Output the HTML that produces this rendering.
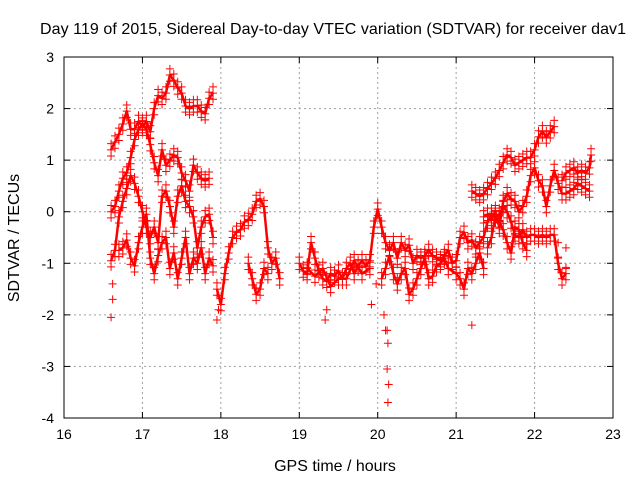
<!DOCTYPE html>
<html><head><meta charset="utf-8"><style>
body{margin:0;background:#fff}
svg text{font-family:"Liberation Sans",sans-serif;font-size:14px;fill:#000}
svg text.big{font-size:16px}
</style></head><body>
<svg id="c" width="640" height="480"></svg>
<script>
const xTicks=[16,17,18,19,20,21,22,23];
const yTicks=[-4,-3,-2,-1,0,1,2,3];
const trackA=[[16.60,1.2],[16.65,1.35],[16.70,1.5],[16.75,1.7],[16.80,1.95],[16.85,1.6],[16.90,1.6],[16.95,1.75],[17.00,1.65],[17.05,1.75],[17.10,1.55],[17.15,2.0],[17.20,2.25],[17.25,2.2],[17.30,2.3],[17.35,2.65],[17.40,2.55],[17.45,2.4],[17.50,2.3],[17.55,2.05],[17.60,2.0],[17.65,2.05],[17.70,2.05],[17.75,1.95],[17.80,1.9],[17.85,2.2],[17.90,2.3]];
const trackB=[[16.60,0.0],[16.65,0.1],[16.70,0.4],[16.75,0.65],[16.80,0.75],[16.85,1.05],[16.90,1.4],[16.95,1.6],[17.00,1.7],[17.05,1.6],[17.10,1.3],[17.15,0.95],[17.20,0.7],[17.25,1.2],[17.30,0.9],[17.35,1.0],[17.40,1.1],[17.45,1.05],[17.50,0.75],[17.55,0.6],[17.60,0.4],[17.65,0.9],[17.70,0.75],[17.75,0.65],[17.80,0.6],[17.85,0.65]];
const trackC=[[16.60,-0.95],[16.65,-0.75],[16.70,-0.1],[16.75,0.2],[16.80,0.45],[16.85,0.7],[16.90,0.55],[16.95,0.3],[17.00,0.0],[17.05,-0.3],[17.10,-0.5],[17.15,-0.3],[17.20,-0.6],[17.25,0.3],[17.30,0.4],[17.35,0.1],[17.40,-0.3],[17.45,0.3],[17.50,0.5],[17.55,0.2],[17.60,0.1],[17.65,-0.1],[17.70,-0.7],[17.75,-0.3],[17.80,-0.1],[17.85,-0.05],[17.90,-0.5]];
const trackD=[[16.70,-0.75],[16.75,-0.7],[16.80,-0.55],[16.85,-0.9],[16.90,-1.05],[16.95,-0.6],[17.00,-0.3],[17.05,-0.05],[17.10,-0.9],[17.15,-1.2],[17.20,-0.85],[17.25,-0.6],[17.30,-0.5],[17.35,-1.1],[17.40,-0.8],[17.45,-1.3],[17.50,-0.9],[17.55,-0.5],[17.60,-1.2],[17.65,-0.9],[17.70,-1.0],[17.75,-0.7],[17.80,-1.2],[17.85,-0.9],[17.90,-1.05]];
const trackE=[[17.95,-1.5],[18.00,-1.8],[18.05,-1.2],[18.10,-0.8],[18.15,-0.5],[18.20,-0.4],[18.25,-0.35],[18.30,-0.2],[18.35,-0.15],[18.40,-0.05],[18.45,0.2],[18.50,0.25],[18.55,0.1],[18.60,-0.7],[18.65,-1.0],[18.70,-0.9],[18.75,-1.3]];
const trackE2=[[18.35,-1.0],[18.40,-1.3],[18.45,-1.6],[18.50,-1.5],[18.55,-1.1],[18.60,-1.2]];
const trackF=[[19.00,-1.0],[19.05,-1.15],[19.10,-1.2],[19.15,-0.6],[19.20,-0.9],[19.25,-1.15],[19.30,-1.3],[19.35,-1.35],[19.40,-1.2],[19.45,-1.25],[19.50,-1.15],[19.55,-1.3],[19.60,-1.1],[19.65,-1.0],[19.70,-1.2],[19.75,-1.05],[19.80,-0.95],[19.85,-1.05],[19.90,-0.95],[19.95,-0.3],[20.00,0.05],[20.05,-0.3],[20.10,-0.6],[20.15,-0.75],[20.20,-0.6],[20.25,-0.9],[20.30,-0.6],[20.35,-0.75],[20.40,-0.65],[20.45,-1.0],[20.50,-0.85],[20.55,-0.9],[20.60,-0.85],[20.65,-0.75],[20.70,-0.85],[20.75,-0.9],[20.80,-0.95],[20.85,-0.85],[20.90,-0.75],[20.95,-1.0],[21.00,-0.95],[21.05,-0.5],[21.10,-0.4],[21.15,-0.6],[21.20,-0.55],[21.25,-0.7],[21.30,-0.6],[21.35,-0.5],[21.40,-0.2],[21.45,-0.05],[21.50,-0.1],[21.55,-0.05],[21.60,0.1],[21.65,0.0],[21.70,-0.2],[21.75,-0.45],[21.80,-0.5],[21.85,-0.35],[21.90,-0.5],[21.95,-0.45],[22.00,-0.45],[22.05,-0.5],[22.10,-0.45],[22.15,-0.5],[22.20,-0.45],[22.25,-0.45],[22.30,-1.0],[22.35,-1.3],[22.40,-1.2]];
const trackG=[[19.10,-1.1],[19.20,-1.25],[19.30,-1.1],[19.40,-1.45],[19.50,-1.3],[19.60,-1.3],[19.70,-0.95],[19.80,-1.2],[19.90,-1.1]];
const trackH=[[20.05,-1.3],[20.10,-1.1],[20.15,-0.85],[20.20,-1.2],[20.25,-1.4],[20.30,-1.2],[20.35,-1.1],[20.40,-1.6],[20.45,-1.5],[20.50,-1.3],[20.55,-1.1],[20.60,-0.9],[20.65,-1.3],[20.70,-1.25],[20.75,-1.05],[20.80,-1.0],[20.85,-0.9],[20.90,-1.1],[21.00,-1.2],[21.05,-1.3],[21.10,-1.5],[21.15,-1.1],[21.20,-1.2],[21.25,-1.0],[21.30,-0.8],[21.35,-1.1]];
const trackI=[[21.20,0.4],[21.25,0.35],[21.30,0.3],[21.35,0.35],[21.40,0.45],[21.45,0.55],[21.50,0.65],[21.55,0.8],[21.60,0.95],[21.65,1.1],[21.70,1.05],[21.75,0.9],[21.80,0.95],[21.85,1.0],[21.90,1.05],[21.95,1.05],[22.00,1.2],[22.05,1.45],[22.10,1.55],[22.15,1.45],[22.20,1.55],[22.25,1.65]];
const trackJ=[[21.35,-0.1],[21.40,-0.05],[21.45,-0.15],[21.50,0.0],[21.55,-0.3],[21.60,0.2],[21.65,0.35],[21.70,0.25],[21.75,0.2],[21.80,0.0],[21.85,0.1],[21.90,0.3],[21.95,0.7],[22.00,0.85],[22.05,0.6],[22.10,0.5],[22.15,0.1],[22.20,0.5],[22.25,0.8],[22.30,0.55],[22.35,0.35],[22.40,0.35],[22.45,0.4],[22.50,0.45],[22.55,0.55],[22.60,0.5],[22.65,0.45],[22.70,0.4]];
const trackK=[[22.35,0.6],[22.40,0.75],[22.45,0.8],[22.50,0.85],[22.55,0.75],[22.60,0.8],[22.65,0.75],[22.70,0.85],[22.72,1.1]];
const trackL=[[21.40,-0.7],[21.45,-0.5],[21.50,-0.1],[21.55,-0.2],[21.60,-0.35],[21.65,-0.6],[21.70,-0.8],[21.75,-0.3],[21.80,-0.35],[21.85,-0.6],[21.90,-0.75]];
const outliers=[[16.60,-2.05],[16.62,-1.7],[16.62,-1.4],[17.95,-2.1],[17.97,-1.9],[19.35,-1.9],[19.33,-2.1],[19.92,-1.8],[19.98,-1.4],[20.08,-2.0],[20.10,-2.3],[20.12,-2.3],[20.13,-2.55],[20.12,-3.05],[20.14,-3.35],[20.13,-3.7],[21.20,-2.2],[22.30,-0.6],[22.30,-0.9],[22.40,-1.1],[22.40,-0.7]];
const tracks=[trackA,trackB,trackC,trackD,trackE,trackE2,trackF,trackG,trackH,trackI,trackJ,trackK,trackL];

const NS="http://www.w3.org/2000/svg";
const svg=document.getElementById('c');
const L=64,R=613,T=57,B=418;
const xs=t=>L+(t-16)/7*(R-L);
const ys=v=>B-(v+4)/7*(B-T);
function mk(tag,attrs,parent){const e=document.createElementNS(NS,tag);for(const k in attrs)e.setAttribute(k,attrs[k]);(parent||svg).appendChild(e);return e;}

const grid=mk('g',{});


xTicks.forEach(t=>{
  if(t>16&&t<23){const l=mk('line',{x1:xs(t),x2:xs(t),y1:T,y2:B,stroke:'#a0a0a0','stroke-dasharray':'2,3'},grid);
  
  }
  const k1=mk('line',{x1:xs(t),x2:xs(t),y1:B,y2:B-6,stroke:'#000'});
  
  
  mk('line',{x1:xs(t),x2:xs(t),y1:T,y2:T+6,stroke:'#000'});
  const tx=mk('text',{x:xs(t),y:B+21,'text-anchor':'middle'});tx.textContent=t;
  
  
});
yTicks.forEach(v=>{
  if(v>-4&&v<3){const l=mk('line',{x1:L,x2:R,y1:ys(v),y2:ys(v),stroke:'#a0a0a0','stroke-dasharray':'2,3'},grid);
  
  }
  const k=mk('line',{x1:L,x2:L+6,y1:ys(v),y2:ys(v),stroke:'#000'});
  
  
  mk('line',{x1:R,x2:R-6,y1:ys(v),y2:ys(v),stroke:'#000'});
  const tx=mk('text',{x:L-10,y:ys(v)+5,'text-anchor':'end'});tx.textContent=v;
  
  
});

const marks=mk('g',{stroke:'#ff0000',fill:'none'});


tracks.forEach(tr=>{
  const pl=mk('polyline',{points:tr.map(p=>xs(p[0])+','+ys(p[1])).join(' '),'stroke-width':2.5,'stroke-linejoin':'round'},marks);
  
  
});
function plus(p){
  const x=xs(p[0]),y=ys(p[1]);
  const pa=mk('path',{d:`M${x-4},${y}H${x+4}M${x},${y-4}V${y+4}`,'stroke-width':1},marks);
  
  
}
tracks.forEach(tr=>tr.forEach(p=>{plus(p);plus([p[0],p[1]+0.12]);plus([p[0],p[1]-0.12]);}));
outliers.forEach(plus);

const fr=mk('rect',{x:L,y:T,width:R-L,height:B-T,fill:'none',stroke:'#000'});


const ti=mk('text',{x:333,y:34,'text-anchor':'middle',class:'big',textLength:586});ti.textContent='Day 119 of 2015, Sidereal Day-to-day VTEC variation (SDTVAR) for receiver dav1';


const xt=mk('text',{x:335,y:471,'text-anchor':'middle',class:'big'});xt.textContent='GPS time / hours';


const yt=mk('text',{x:0,y:0,'text-anchor':'middle',class:'big',transform:'translate(19,238) rotate(-90)'});yt.textContent='SDTVAR / TECUs';


</script>
</body></html>
